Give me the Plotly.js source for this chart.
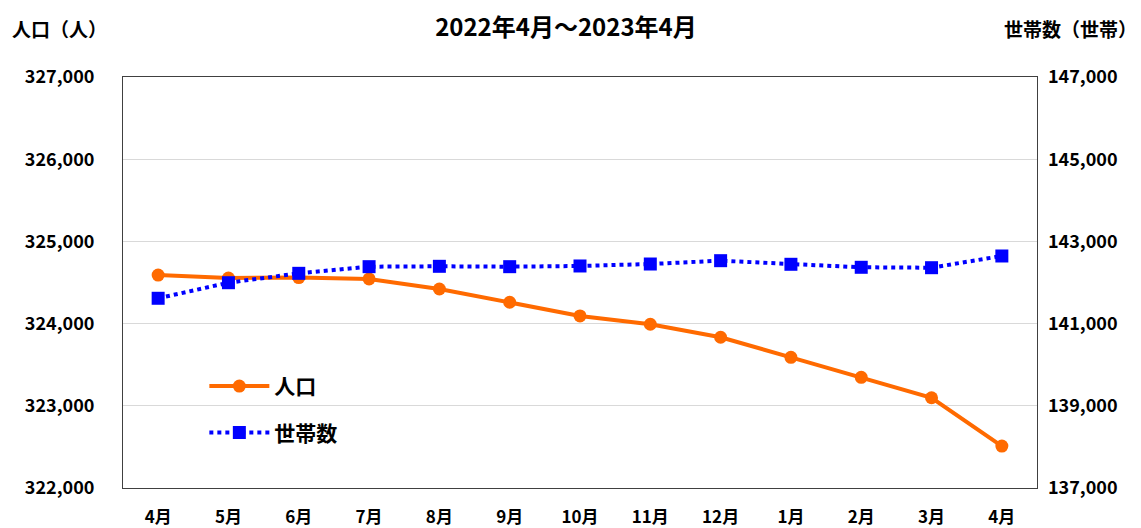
<!DOCTYPE html>
<html>
<head>
<meta charset="utf-8">
<script src="https://cdn.plot.ly/plotly-3.0.1.min.js"></script>
<style>
html,body{margin:0;padding:0;background:#fff;}
#chart{width:1141px;height:528px;}
</style>
</head>
<body>
<div id="chart"></div>
<script>
const months = ["4月","5月","6月","7月","8月","9月","10月","11月","12月","1月","2月","3月","4月"];
const population = [324590, 324555, 324560, 324543, 324421, 324260, 324093, 323992, 323834, 323590, 323347, 323098, 322510];
const households = [141616, 141995, 142223, 142385, 142394, 142385, 142402, 142450, 142531, 142443, 142370, 142360, 142645];
const leftTicks = [322000, 323000, 324000, 325000, 326000, 327000];
const rightTicks = [137000, 139000, 141000, 143000, 145000, 147000];

const idx = months.map((m, i) => i);
const FONT = '"Noto Sans CJK JP", "Noto Sans", sans-serif';

const traces = [
  {
    x: idx, y: population, name: "人口", type: "scatter", mode: "lines+markers",
    line: {color: "#FF6A00", width: 4},
    marker: {symbol: "circle", size: 13, color: "#FF6A00"},
    yaxis: "y", legendgroup: "a"
  },
  {
    x: idx, y: households, name: "世帯数", type: "scatter", mode: "lines+markers",
    line: {color: "#0000FF", width: 4, dash: "dot"},
    marker: {symbol: "square", size: 13, color: "#0000FF"},
    yaxis: "y2", legendgroup: "b"
  }
];

const fmt = v => v.toLocaleString("en-US");

const layout = {
  width: 1141, height: 528,
  margin: {l: 123, r: 104, t: 77, b: 40},
  paper_bgcolor: "#fff", plot_bgcolor: "#fff",
  font: {family: FONT, size: 18, color: "#000"},
  showlegend: true,
  legend: {
    x: 0.089, y: 0.297, xanchor: "left", yanchor: "top",
    bgcolor: "rgba(0,0,0,0)", borderwidth: 0,
    traceorder: "grouped",
    font: {family: FONT, size: 21, color: "#000", weight: "bold"},
    itemwidth: 60, tracegroupgap: 16
  },
  shapes: [
    {type: "rect", xref: "paper", yref: "paper", layer: "between",
     x0: 0.046, x1: 0.287, y0: 0.09, y1: 0.30,
     fillcolor: "#fff", line: {width: 0}}
  ],
  title: {
    text: "<b>2022年4月～2023年4月</b>",
    font: {family: FONT, size: 24, color: "#000"},
    x: 0.496, xanchor: "center", y: 0.948, yanchor: "middle"
  },
  xaxis: {
    type: "linear",
    range: [-0.5, 12.5],
    tickmode: "array", tickvals: idx, ticktext: months.map(m => "<b>" + m + "</b>"),
    showgrid: false, zeroline: false,
    showline: true, linecolor: "#404040", linewidth: 1, mirror: true,
    ticks: "", tickfont: {family: FONT, size: 17, color: "#000"},
    ticklabelstandoff: 14
  },
  yaxis: {
    range: [322000, 327000],
    tickmode: "array", tickvals: leftTicks, ticktext: leftTicks.map(v => "<b>" + fmt(v) + "</b>"),
    showgrid: true, gridcolor: "#D9D9D9", gridwidth: 1,
    zeroline: false, showline: true, linecolor: "#404040", linewidth: 1, mirror: true,
    ticks: "", tickfont: {family: FONT, size: 18, color: "#000"},
    ticklabelstandoff: 24
  },
  yaxis2: {
    range: [137000, 147000], overlaying: "y", side: "right",
    tickmode: "array", tickvals: rightTicks, ticktext: rightTicks.map(v => "<b>" + fmt(v) + "</b>"),
    showgrid: false, zeroline: false, showline: false,
    ticks: "", tickfont: {family: FONT, size: 18, color: "#000"},
    ticklabelstandoff: 10
  },
  annotations: [
    {text: "<b>人口（人）</b>", xref: "paper", yref: "paper", x: -0.124, y: 1.119, xanchor: "left", yanchor: "middle",
     showarrow: false, font: {family: FONT, size: 19, color: "#000"}},
    {text: "<b>世帯数（世帯）</b>", xref: "paper", yref: "paper", x: 1.1115, y: 1.119, xanchor: "right", yanchor: "middle",
     showarrow: false, font: {family: FONT, size: 19, color: "#000"}}
  ]
};

Plotly.newPlot("chart", traces, layout, {displayModeBar: false, staticPlot: true});
</script>
</body>
</html>
